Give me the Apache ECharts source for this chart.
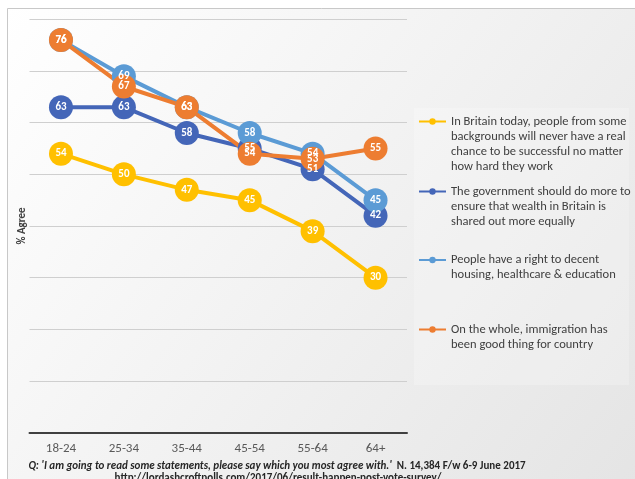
<!DOCTYPE html>
<html>
<head>
<meta charset="utf-8">
<script src="https://cdn.jsdelivr.net/npm/echarts@6/dist/echarts.min.js"></script>
<style>
html,body{margin:0;padding:0;background:#fff;}
#c{width:635px;height:479px;}
</style>
</head>
<body>
<div id="c"></div>
<script>
var categories = ['18-24', '25-34', '35-44', '45-54', '55-64', '64+'];
var seriesNames = [
  'In Britain today, people from some\nbackgrounds will never have a real\nchance to be successful no matter\nhow hard they work',
  'The government should do more to\nensure that wealth in Britain is\nshared out more equally',
  'People have a right to decent\nhousing, healthcare & education',
  'On the whole, immigration has\nbeen good thing for country'
];
var backgroundsValues = [54, 50, 47, 45, 39, 30];
var governmentValues = [63, 63, 58, 55, 51, 42];
var rightsValues = [76, 69, 63, 58, 54, 45];
var immigrationValues = [76, 67, 63, 54, 53, 55];
var colors = ['#FFC000', '#4466B8', '#5B9BD5', '#ED7D31'];
var footnoteQ = "Q: 'I am going to read some statements, please say which you most agree with.'";
var footnoteN = "N. 14,384 F/w 6-9 June 2017";
var footnoteUrl = 'http://lordashcroftpolls.com/2017/06/result-happen-post-vote-survey/';

var FONT = 'Carlito, Calibri, Lato, sans-serif';
var LH = 15;
var allValues = [backgroundsValues, governmentValues, rightsValues, immigrationValues];
var legendFirstLineY = [121.5, 191.5, 260, 329.5];

function padName(name) {
  var n = name.split('\n').length;
  var pre = '';
  for (var i = 0; i < n - 1; i++) pre += '\n';
  return pre + name;
}

var series = seriesNames.map(function (name, i) {
  return {
    name: name,
    type: 'line',
    data: allValues[i],
    symbol: 'circle',
    symbolSize: 24,
    lineStyle: { width: 4, color: colors[i] },
    itemStyle: { color: colors[i] },
    label: {
      show: true,
      position: 'inside',
      color: '#fff',
      fontWeight: 'bold',
      fontSize: 11,
      fontFamily: FONT
    },
    emphasis: { disabled: true },
    animation: false
  };
});

var legends = seriesNames.map(function (name, i) {
  var n = name.split('\n').length;
  return {
    data: [name],
    left: 418,
    top: legendFirstLineY[i] - (n - 1) * LH - LH / 2,
    padding: 0,
    orient: 'vertical',
    itemWidth: 27,
    itemHeight: 8,
    selectedMode: false,
    formatter: function (nm) { return padName(nm); },
    textStyle: { color: '#404040', fontSize: 12.5, fontFamily: FONT, lineHeight: LH }
  };
});

var chart = echarts.init(document.getElementById('c'), null, { renderer: 'canvas' });
chart.setOption({
  animation: false,
  backgroundColor: '#ffffff',
  graphic: [
    {
      type: 'rect', z: -10, silent: true,
      shape: { x: 7.5, y: 8.5, width: 640, height: 480 },
      style: {
        fill: new echarts.graphic.LinearGradient(0, 0, 1, 1, [
          { offset: 0, color: '#ffffff' },
          { offset: 1, color: '#e4e4e4' }
        ]),
        stroke: '#c8c8c8', lineWidth: 1
      }
    },
    {
      type: 'rect', z: -9, silent: true,
      shape: { x: 414, y: 108, width: 215, height: 277 },
      style: { fill: 'rgba(255,255,255,0.22)' }
    }
  ],
  grid: { left: 29.5, right: 228, top: 19.3, bottom: 46.3, containLabel: false },
  legend: legends,
  title: [
    {
      left: 277,
      top: 457,
      padding: 0,
      textAlign: 'center',
      text: '{q|' + footnoteQ + '} {n|' + footnoteN + '}',
      textStyle: {
        rich: {
          q: { fontFamily: FONT, fontSize: 11, fontWeight: 'bold', fontStyle: 'italic', color: '#262626' },
          n: { fontFamily: FONT, fontSize: 11, fontWeight: 'bold', color: '#262626' }
        }
      }
    },
    {
      left: 278,
      top: 473,
      padding: 0,
      textAlign: 'center',
      text: footnoteUrl,
      textStyle: { fontFamily: FONT, fontSize: 11, fontWeight: 'bold', color: '#262626' }
    }
  ],
  xAxis: {
    type: 'category',
    data: categories,
    boundaryGap: true,
    axisLine: { show: true, lineStyle: { color: '#404040', width: 2 } },
    axisTick: { show: false },
    axisLabel: { color: '#595959', fontSize: 13, fontFamily: FONT, margin: 10 },
    splitLine: { show: false }
  },
  yAxis: {
    type: 'value',
    min: 0,
    max: 80,
    interval: 10,
    name: '% Agree',
    nameLocation: 'middle',
    nameGap: 2,
    nameTextStyle: { color: '#404040', fontSize: 11, fontWeight: 'bold', fontFamily: FONT },
    axisLine: { show: false },
    axisTick: { show: false },
    axisLabel: { show: false },
    splitLine: { show: true, lineStyle: { color: '#cfcfcf', width: 1 } }
  },
  series: series
});
</script>
</body>
</html>
